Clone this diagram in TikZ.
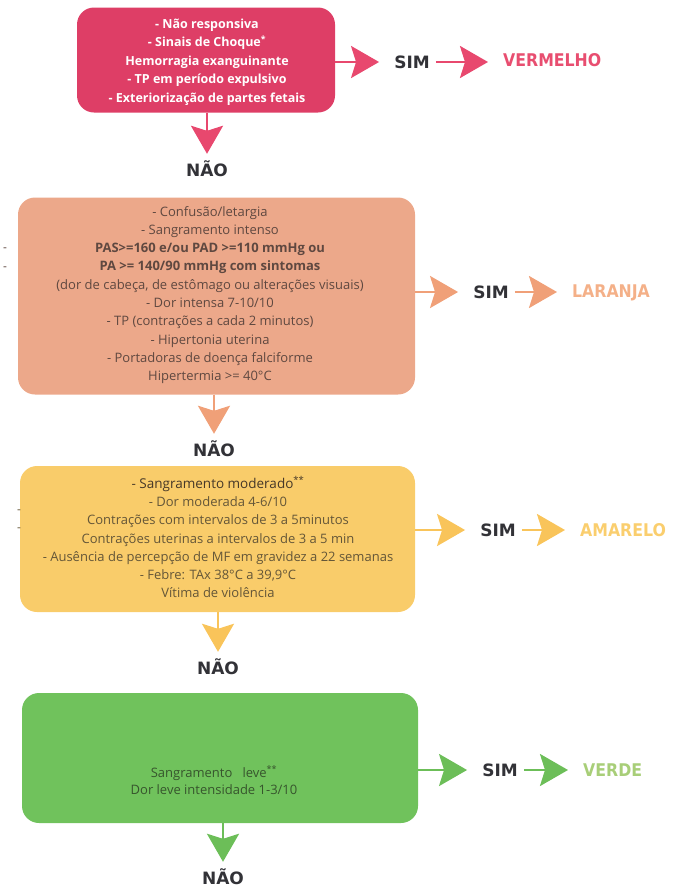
\documentclass[tikz,border=0pt]{standalone}
\usepackage{fontspec}
\setmainfont{Open Sans}
\newfontfamily\answerfont{DejaVu Sans}
\newfontfamily\levelfont{DejaVu Sans Condensed}
\usetikzlibrary{arrows.meta}

% triage level palette
\definecolor{redbox}{RGB}{222,62,102}
\definecolor{redarrow}{RGB}{232,72,110}
\definecolor{redlabel}{RGB}{232,78,112}
\definecolor{orangebox}{RGB}{236,168,138}
\definecolor{orangearrow}{RGB}{240,160,120}
\definecolor{orangelabel}{RGB}{244,176,136}
\definecolor{orangetext}{RGB}{95,72,64}
\definecolor{yellowbox}{RGB}{249,204,106}
\definecolor{yellowarrow}{RGB}{249,196,90}
\definecolor{yellowlabel}{RGB}{250,206,110}
\definecolor{yellowtext}{RGB}{100,86,56}
\definecolor{yellowstrong}{RGB}{70,56,40}
\definecolor{greenbox}{RGB}{112,194,92}
\definecolor{greenarrow}{RGB}{108,190,88}
\definecolor{greenlabel}{RGB}{168,206,120}
\definecolor{greentext}{RGB}{55,85,45}
\definecolor{answer}{RGB}{50,50,55}

\begin{document}
\begin{tikzpicture}[x=1pt,y=-1pt,
  levelbox/.style={rounded corners=17pt, inner sep=0pt, draw=none},
  criteria/.style={align=center, inner sep=0pt},
  answerword/.style={font=\answerfont\bfseries\fontsize{17}{17}\selectfont,
    text=answer, inner sep=0pt, text height=12pt, text depth=0pt},
  levelword/.style={font=\levelfont\bfseries\fontsize{17.5}{17.5}\selectfont,
    inner sep=0pt, anchor=west, text height=12pt, text depth=0pt},
  flow/.style={line width=2.6pt, -{Stealth[length=28pt,width=32pt,inset=5pt]}},
  flowdown/.style={flow, shorten >=10pt},
  flowyes/.style={flow, shorten >=15pt},
  flowlevel/.style={flow, shorten <=6pt, shorten >=15pt},
]
\useasboundingbox (0,0) rectangle (674,889);

% ---------- VERMELHO ----------
\node[levelbox, fill=redbox, minimum width=258pt, minimum height=105pt] (vbox) at (206,60) {};
\node[criteria, text=white, font=\bfseries\fontsize{12.5}{18.6}\selectfont] (vtext) at (207,62)
  {- Não responsiva\\
   - Sinais de Choque\textsuperscript{*}\\
   Hemorragia exanguinante\\
   - TP em período expulsivo\\
   - Exteriorização de partes fetais};
\node[answerword] (vsim) at (412,62) {SIM};
\node[levelword, text=redlabel] (vlabel) at (503,60) {VERMELHO};
\node[answerword] (vno) at (207,170) {NÃO};
\draw[flowyes, redarrow] (vbox.east |- vsim) -- (vsim.west);
\draw[flowlevel, redarrow] (vsim.east) -- (vlabel.west |- vsim);
\draw[flowdown, redarrow] (vno |- vbox.south) -- (vno.north);

% ---------- LARANJA ----------
\node[levelbox, fill=orangebox, minimum width=397pt, minimum height=197pt] (lbox) at (216.5,296) {};
\node[criteria, text=orangetext, font=\fontsize{13}{18.3}\selectfont] (ltext) at (210,295)
  {- Confusão/letargia\\
   - Sangramento intenso\\
   {\bfseries\fontsize{13}{18.3}\selectfont PAS>=160 e/ou PAD >=110 mmHg ou}\\
   {\bfseries\fontsize{13}{18.3}\selectfont PA >= 140/90 mmHg com sintomas}\\
   (dor de cabeça, de estômago ou alterações visuais)\\
   - Dor intensa 7-10/10\\
   - TP (contrações a cada 2 minutos)\\
   - Hipertonia uterina\\
   - Portadoras de doença falciforme\\
   Hipertermia >= 40°C};
\node[criteria, text=orangetext, font=\fontsize{12}{12}\selectfont] (ldash1) at (5,250) {-};
\node[criteria, text=orangetext, font=\fontsize{12}{12}\selectfont] (ldash2) at (5,269) {-};
\node[answerword] (lsim) at (491,292) {SIM};
\node[levelword, text=orangelabel] (llabel) at (572,291) {LARANJA};
\node[answerword] (lno) at (214,450) {NÃO};
\draw[flowyes, orangearrow] (lbox.east |- lsim) -- (lsim.west);
\draw[flowlevel, orangearrow] (lsim.east) -- (llabel.west |- lsim);
\draw[flowdown, orangearrow] (lno |- lbox.south) -- (lno.north);

% ---------- AMARELO ----------
\node[levelbox, fill=yellowbox, minimum width=395pt, minimum height=146pt] (abox) at (217.5,539) {};
\node[criteria, text=yellowtext, font=\fontsize{13}{18.2}\selectfont] (atext) at (218,537)
  {{\color{yellowstrong}\fontsize{13.5}{18.2}\selectfont - Sangramento moderado\textsuperscript{**}}\\
   - Dor moderada 4-6/10\\
   Contrações com intervalos de 3 a 5minutos\\
   Contrações uterinas a intervalos de 3 a 5 min\\
   - Ausência de percepção de MF em gravidez a 22 semanas\\
   - Febre: TAx 38°C a 39,9°C\\
   Vítima de violência};
\node[criteria, text=yellowtext, font=\fontsize{12}{12}\selectfont] (adash1) at (19,512) {-};
\node[criteria, text=yellowtext, font=\fontsize{12}{12}\selectfont] (adash2) at (19,530) {-};
\node[answerword] (asim) at (498,530) {SIM};
\node[levelword, text=yellowlabel] (alabel) at (580,530) {AMARELO};
\node[answerword] (ano) at (218,668) {NÃO};
\draw[flowyes, yellowarrow] (abox.east |- asim) -- (asim.west);
\draw[flowlevel, yellowarrow] (asim.east) -- (alabel.west |- asim);
\draw[flowdown, yellowarrow] (ano |- abox.south) -- (ano.north);

% ---------- VERDE ----------
\node[levelbox, fill=greenbox, minimum width=396pt, minimum height=130pt] (gbox) at (220,758) {};
\node[criteria, text=greentext, font=\fontsize{13}{17}\selectfont] (gtext) at (214,780)
  {Sangramento\ \ \ leve\textsuperscript{**}\\
   Dor leve intensidade 1-3/10};
\node[answerword] (gsim) at (500,770) {SIM};
\node[levelword, text=greenlabel] (glabel) at (583,770) {VERDE};
\node[answerword] (gno) at (223,878) {NÃO};
\draw[flowyes, greenarrow] (gbox.east |- gsim) -- (gsim.west);
\draw[flowlevel, greenarrow] (gsim.east) -- (glabel.west |- gsim);
\draw[flowdown, greenarrow] (gno |- gbox.south) -- (gno.north);
\end{tikzpicture}
\end{document}
